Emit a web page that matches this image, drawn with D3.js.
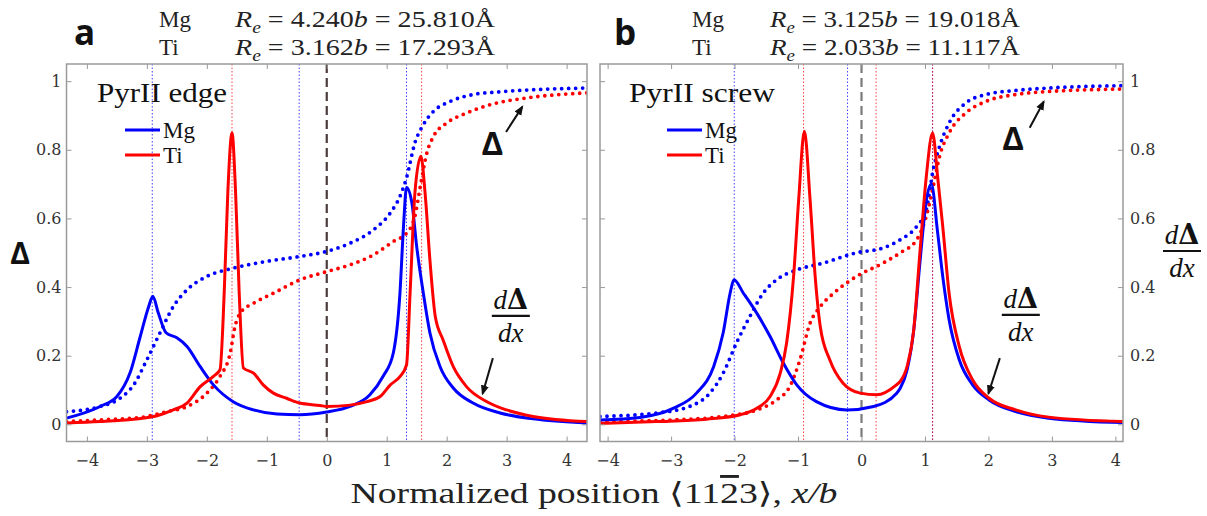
<!DOCTYPE html>
<html>
<head>
<meta charset="utf-8">
<script src="https://cdn.jsdelivr.net/npm/d3@7"></script>
<style>
  body { margin: 0; background: #fff; }
  svg { display: block; }
</style>
</head>
<body>
<svg id="chart" width="1207" height="516"></svg>
<script>
// ---- tick values ----
const xTicks = [-4, -3, -2, -1, 0, 1, 2, 3, 4];
const yTicks = [0, 0.2, 0.4, 0.6, 0.8, 1];

// ---- PyrII edge: Mg ----
const edgeMgDerivX = [-4.34,-3.78,-3.5,-3.28,-3.11,-2.97,-2.9,-2.81,-2.68,-2.5,-2.33,-2.11,-1.89,-1.56,-1.22,-0.83,-0.45,0,0.39,0.72,0.94,1.11,1.22,1.28,1.33,1.42,1.5,1.61,1.72,1.89,2.11,2.44,2.89,3.44,4.34];
const edgeMgDerivY = [0.018,0.052,0.081,0.15,0.256,0.343,0.373,0.325,0.267,0.252,0.227,0.168,0.115,0.066,0.042,0.03,0.028,0.036,0.052,0.086,0.14,0.208,0.38,0.577,0.69,0.645,0.518,0.383,0.267,0.168,0.106,0.062,0.033,0.016,0.004];
const edgeMgDeltaX = [-4.34,-3.78,-3.44,-3.22,-3.0,-2.78,-2.56,-2.33,-2.0,-1.56,-1.0,-0.45,0,0.39,0.78,1.06,1.22,1.33,1.47,1.61,1.78,2.06,2.44,2.89,3.44,4.34];
const edgeMgDeltaY = [0.037,0.052,0.077,0.115,0.188,0.267,0.343,0.392,0.431,0.455,0.475,0.489,0.504,0.528,0.567,0.616,0.664,0.718,0.82,0.873,0.912,0.941,0.961,0.969,0.975,0.98];

// ---- PyrII edge: Ti ----
const edgeTiDerivX = [-4.34,-3.78,-3.22,-2.83,-2.56,-2.33,-2.11,-1.89,-1.78,-1.71,-1.65,-1.58,-1.52,-1.46,-1.39,-1.22,-1.06,-0.89,-0.67,-0.45,-0.11,0,0.39,0.67,0.89,1.06,1.22,1.33,1.39,1.47,1.57,1.64,1.72,1.81,1.94,2.11,2.33,2.67,3.0,3.44,4.34];
const edgeTiDerivY = [0.004,0.008,0.015,0.025,0.042,0.062,0.11,0.14,0.159,0.383,0.675,0.849,0.675,0.383,0.164,0.149,0.115,0.091,0.076,0.062,0.055,0.052,0.056,0.066,0.081,0.115,0.139,0.173,0.383,0.674,0.781,0.674,0.48,0.314,0.246,0.168,0.11,0.066,0.042,0.023,0.008];
const edgeTiDeltaX = [-4.34,-3.78,-3.11,-2.67,-2.33,-2.0,-1.78,-1.61,-1.53,-1.44,-1.22,-0.89,-0.45,0,0.39,0.78,1.11,1.33,1.47,1.56,1.67,1.78,2.0,2.33,2.78,3.33,4.34];
const edgeTiDeltaY = [0.008,0.013,0.02,0.037,0.052,0.091,0.14,0.208,0.285,0.325,0.353,0.382,0.421,0.445,0.465,0.494,0.533,0.557,0.606,0.693,0.791,0.839,0.878,0.907,0.934,0.951,0.966];

// ---- PyrII screw: Mg ----
const screwMgDerivX = [-4.12,-3.49,-2.96,-2.6,-2.33,-2.18,-2.07,-2.01,-1.86,-1.65,-1.44,-1.23,-1.02,-0.71,-0.23,0.19,0.55,0.61,0.72,0.82,0.92,1.02,1.1,1.2,1.28,1.38,1.54,1.75,2.01,2.43,2.95,4.12];
const screwMgDerivY = [0.013,0.02,0.047,0.091,0.168,0.266,0.382,0.421,0.382,0.324,0.256,0.178,0.115,0.066,0.042,0.052,0.09,0.105,0.16,0.27,0.47,0.65,0.70,0.558,0.431,0.305,0.188,0.115,0.071,0.037,0.018,0.005];
const screwMgDeltaX = [-4.12,-3.23,-2.71,-2.39,-2.18,-1.97,-1.76,-1.55,-1.34,-1.02,-0.6,-0.08,0.34,0.61,0.87,1.02,1.13,1.23,1.38,1.64,1.96,2.43,2.95,4.12];
const screwMgDeltaY = [0.023,0.033,0.052,0.091,0.149,0.237,0.314,0.382,0.421,0.45,0.47,0.5,0.514,0.538,0.577,0.625,0.742,0.81,0.878,0.936,0.961,0.973,0.98,0.987];

// ---- PyrII screw: Ti ----
const screwTiDerivX = [-4.12,-3.23,-2.44,-1.91,-1.65,-1.44,-1.28,-1.18,-1.07,-0.99,-0.9,-0.81,-0.73,-0.65,-0.5,-0.29,-0.02,0.24,0.55,0.61,0.72,0.82,0.92,1.02,1.12,1.2,1.28,1.38,1.54,1.75,2.01,2.43,2.95,4.12];
const screwTiDerivY = [0.003,0.008,0.015,0.028,0.047,0.081,0.149,0.237,0.431,0.654,0.854,0.654,0.431,0.285,0.188,0.12,0.091,0.086,0.115,0.125,0.17,0.27,0.5,0.72,0.849,0.72,0.577,0.382,0.227,0.13,0.076,0.042,0.021,0.008];
const screwTiDeltaX = [-4.12,-2.96,-2.18,-1.65,-1.34,-1.13,-0.97,-0.81,-0.65,-0.44,-0.08,0.34,0.61,0.87,1.02,1.13,1.23,1.38,1.64,1.96,2.43,2.95,4.12];
const screwTiDeltaY = [0.008,0.013,0.023,0.042,0.071,0.11,0.188,0.295,0.343,0.382,0.431,0.47,0.5,0.538,0.606,0.693,0.781,0.849,0.907,0.941,0.961,0.97,0.977];

// ---- core positions marked by thin dotted verticals ----
const edgeMgMarks = [-2.91, -0.46, 1.33];
const edgeTiMarks = [-1.58, 1.582];
const screwMgMarks = [-2.005, -0.22, 1.12];
const screwTiMarks = [-0.913, 0.23, 1.12];

// ---- header lines: element, Re/b, Re in Å ----
const elements = ["Mg", "Ti"];
const edgeReB = ["4.240", "3.162"];
const edgeReA = ["25.810", "17.293"];
const screwReB = ["3.125", "2.033"];
const screwReA = ["19.018", "11.117"];

const BLUE = "#0000ff", RED = "#ff0000";
const SERIF = "'Liberation Serif', 'DejaVu Serif', serif";
const TICKFONT = "'DejaVu Serif', serif";
const SANS = "'Open Sans', 'DejaVu Sans', sans-serif";

const svg = d3.select("#chart");
const zip = (xs, ys) => xs.map((v, i) => [v, ys[i]]);

const yTop = 64, yBot = 441.5;
const yScale = d3.scaleLinear().domain([-0.05, 1.05]).range([yBot, yTop]);

// arrow head marker
svg.append("defs").append("marker")
  .attr("id", "head").attr("viewBox", "0 0 10 10")
  .attr("refX", 8).attr("refY", 5)
  .attr("markerWidth", 5).attr("markerHeight", 5)
  .attr("orient", "auto")
  .append("path").attr("d", "M0,1 L10,5 L0,9 Z").attr("fill", "#111");

function fraction(g, cx, cyBar, size) {
  const t1 = g.append("text").attr("x", cx).attr("y", cyBar - 7)
    .attr("text-anchor", "middle").attr("font-family", SERIF).attr("font-size", size).attr("fill", "#111");
  t1.append("tspan").attr("font-style", "italic").text("d");
  t1.append("tspan").attr("font-weight", "bold").attr("font-family", "'DejaVu Serif', serif").text("Δ");
  g.append("line").attr("x1", cx - 19).attr("x2", cx + 19)
    .attr("y1", cyBar).attr("y2", cyBar).attr("stroke", "#111").attr("stroke-width", 2.2);
  g.append("text").attr("x", cx).attr("y", cyBar + 26)
    .attr("text-anchor", "middle").attr("font-family", SERIF).attr("font-size", size)
    .attr("font-style", "italic").attr("fill", "#111").text("dx");
}

function drawPanel(cfg) {
  const x = d3.scaleLinear().domain(cfg.xDomain).range(cfg.xRange);
  const y = yScale;
  const g = svg.append("g");
  const id = "clip-" + cfg.key;

  g.append("clipPath").attr("id", id).append("rect")
    .attr("x", cfg.xRange[0]).attr("y", yTop)
    .attr("width", cfg.xRange[1] - cfg.xRange[0]).attr("height", yBot - yTop);

  const plot = g.append("g").attr("clip-path", `url(#${id})`);

  // thin dotted markers
  cfg.mgMarks.forEach(v => plot.append("line")
    .attr("x1", x(v)).attr("x2", x(v)).attr("y1", yTop).attr("y2", yBot)
    .attr("stroke", BLUE).attr("stroke-width", 1).attr("stroke-dasharray", "1.5,2").attr("opacity", 0.75));
  cfg.tiMarks.forEach(v => plot.append("line")
    .attr("x1", x(v)).attr("x2", x(v)).attr("y1", yTop).attr("y2", yBot)
    .attr("stroke", RED).attr("stroke-width", 1).attr("stroke-dasharray", "1.5,2").attr("opacity", 0.75));

  // dashed line at the origin
  plot.append("line")
    .attr("x1", x(0)).attr("x2", x(0)).attr("y1", yTop).attr("y2", yBot)
    .attr("stroke", cfg.zeroColor).attr("stroke-width", 2.2).attr("stroke-dasharray", "9,5");

  const line = d3.line().x(d => x(d[0])).y(d => y(d[1])).curve(d3.curveMonotoneX);

  // Δ profiles (dotted)
  [[cfg.mgDelta, BLUE], [cfg.tiDelta, RED]].forEach(([data, c]) => {
    plot.append("path").attr("d", line(data)).attr("fill", "none")
      .attr("stroke", c).attr("stroke-width", 3.8)
      .attr("stroke-linecap", "round").attr("stroke-dasharray", "0,7");
  });
  // dΔ/dx profiles (solid)
  [[cfg.mgDeriv, BLUE], [cfg.tiDeriv, RED]].forEach(([data, c]) => {
    plot.append("path").attr("d", line(data)).attr("fill", "none")
      .attr("stroke", c).attr("stroke-width", 3).attr("stroke-linejoin", "round");
  });

  // axes with inward ticks
  const styleAxis = sel => {
    sel.select(".domain").remove();
    sel.selectAll(".tick line").attr("stroke", "#999").attr("stroke-width", 1);
    sel.selectAll(".tick text").attr("fill", "#333").attr("font-family", TICKFONT).attr("font-size", 16);
  };
  g.append("g").attr("transform", `translate(0,${yBot})`)
    .call(d3.axisBottom(x).tickValues(xTicks).tickSize(-5).tickPadding(13).tickFormat(d3.format("d")))
    .call(styleAxis);
  g.append("g").attr("transform", `translate(0,${yTop})`)
    .call(d3.axisTop(x).tickValues(xTicks).tickSize(-5).tickFormat(""))
    .call(styleAxis);
  const fmtY = d => (d === 0 || d === 1) ? String(d) : d.toFixed(1);
  g.append("g").attr("transform", `translate(${cfg.xRange[0]},0)`)
    .call(d3.axisLeft(y).tickValues(yTicks).tickSize(-5).tickPadding(5)
      .tickFormat(cfg.labelsLeft ? fmtY : ""))
    .call(styleAxis);
  g.append("g").attr("transform", `translate(${cfg.xRange[1]},0)`)
    .call(d3.axisRight(y).tickValues(yTicks).tickSize(-5).tickPadding(7)
      .tickFormat(cfg.labelsLeft ? "" : fmtY))
    .call(styleAxis);

  // frame
  g.append("rect").attr("x", cfg.xRange[0]).attr("y", yTop)
    .attr("width", cfg.xRange[1] - cfg.xRange[0]).attr("height", yBot - yTop)
    .attr("fill", "none").attr("stroke", "#9a9a9a").attr("stroke-width", 1.5);

  // panel title and legend
  g.append("text").attr("x", cfg.nameX).attr("y", 102)
    .attr("font-family", SERIF).attr("font-size", 27).attr("fill", "#111")
    .attr("textLength", cfg.nameW).attr("lengthAdjust", "spacingAndGlyphs")
    .text(cfg.name);
  [[BLUE, "Mg", 130], [RED, "Ti", 155]].forEach(([c, t, ly]) => {
    g.append("line").attr("x1", cfg.legX).attr("x2", cfg.legX + 35)
      .attr("y1", ly).attr("y2", ly).attr("stroke", c).attr("stroke-width", 3);
    g.append("text").attr("x", cfg.legX + 38).attr("y", ly + 8)
      .attr("font-family", SERIF).attr("font-size", 23).attr("fill", "#111").text(t);
  });

  // annotations
  const A = cfg.ann;
  g.append("text").attr("x", x(A.deltaLabel[0])).attr("y", y(A.deltaLabel[1]))
    .attr("text-anchor", "middle").attr("font-family", SANS).attr("font-weight", "bold")
    .attr("font-size", 33).attr("fill", "#111").text("Δ");
  g.append("line")
    .attr("x1", x(A.deltaArrow[0][0])).attr("y1", y(A.deltaArrow[0][1]))
    .attr("x2", x(A.deltaArrow[1][0])).attr("y2", y(A.deltaArrow[1][1]))
    .attr("stroke", "#111").attr("stroke-width", 2).attr("marker-end", "url(#head)");
  fraction(g, x(A.fracLabel[0]), y(A.fracLabel[1]), 27);
  g.append("line")
    .attr("x1", x(A.fracArrow[0][0])).attr("y1", y(A.fracArrow[0][1]))
    .attr("x2", x(A.fracArrow[1][0])).attr("y2", y(A.fracArrow[1][1]))
    .attr("stroke", "#111").attr("stroke-width", 2).attr("marker-end", "url(#head)");

  // header: panel letter and Re values
  g.append("text").attr("x", cfg.letterX).attr("y", 45)
    .attr("font-family", SANS).attr("font-weight", "bold").attr("font-size", 35)
    .attr("fill", "#111").text(cfg.letter);
  elements.forEach((el, i) => {
    const by = i === 0 ? 27 : 55;
    g.append("text").attr("x", cfg.elX).attr("y", by)
      .attr("font-family", SERIF).attr("font-size", 23).attr("fill", "#222").text(el);
    const t = g.append("text").attr("x", cfg.reX).attr("y", by)
      .attr("font-family", SERIF).attr("font-size", 23).attr("fill", "#222")
      .attr("textLength", cfg.reW).attr("lengthAdjust", "spacingAndGlyphs");
    t.append("tspan").attr("font-style", "italic").text("R");
    t.append("tspan").attr("font-style", "italic").attr("font-size", 16).attr("dy", 6).text("e");
    t.append("tspan").attr("dy", -6).text(" = " + cfg.reB[i]);
    t.append("tspan").attr("font-style", "italic").text("b");
    t.append("tspan").text(" = " + cfg.reA[i] + "Å");
  });
}

drawPanel({
  key: "edge", letter: "a", name: "PyrII edge", nameX: 97, nameW: 130,
  xDomain: [-4.34, 4.34], xRange: [66.5, 587],
  labelsLeft: true, zeroColor: "#4a3a3a", legX: 125,
  mgDeriv: zip(edgeMgDerivX, edgeMgDerivY), tiDeriv: zip(edgeTiDerivX, edgeTiDerivY),
  mgDelta: zip(edgeMgDeltaX, edgeMgDeltaY), tiDelta: zip(edgeTiDeltaX, edgeTiDeltaY),
  mgMarks: edgeMgMarks, tiMarks: edgeTiMarks,
  ann: {
    deltaLabel: [2.76, 0.785], deltaArrow: [[2.99, 0.852], [3.26, 0.925]],
    fracLabel: [3.07, 0.316], fracArrow: [[2.77, 0.193], [2.6, 0.09]]
  },
  letterX: 74, elX: 159, reX: 235, reW: 260, reB: edgeReB, reA: edgeReA
});

drawPanel({
  key: "screw", letter: "b", name: "PyrII screw", nameX: 629, nameW: 146,
  xDomain: [-4.12, 4.12], xRange: [600, 1123],
  labelsLeft: false, zeroColor: "#7a7a7a", legX: 667,
  mgDeriv: zip(screwMgDerivX, screwMgDerivY), tiDeriv: zip(screwTiDerivX, screwTiDerivY),
  mgDelta: zip(screwMgDeltaX, screwMgDeltaY), tiDelta: zip(screwTiDeltaX, screwTiDeltaY),
  mgMarks: screwMgMarks, tiMarks: screwTiMarks,
  ann: {
    deltaLabel: [2.39, 0.80], deltaArrow: [[2.65, 0.864], [2.87, 0.94]],
    fracLabel: [2.51, 0.319], fracArrow: [[2.18, 0.193], [2.0, 0.09]]
  },
  letterX: 614, elX: 692, reX: 770, reW: 250, reB: screwReB, reA: screwReA
});

// left axis title
svg.append("text").attr("x", 20).attr("y", 264).attr("text-anchor", "middle")
  .attr("font-family", SANS).attr("font-weight", "bold").attr("font-size", 30)
  .attr("fill", "#111").text("Δ");

// right axis title
fraction(svg, 1182, 251, 27);

// shared x-axis title
const xt = svg.append("text").attr("x", 594).attr("y", 503).attr("text-anchor", "middle")
  .attr("font-family", SERIF).attr("font-size", 29).attr("fill", "#222")
  .attr("textLength", 487).attr("lengthAdjust", "spacingAndGlyphs");
xt.append("tspan").text("Normalized position ⟨11");
xt.append("tspan").style("text-decoration", "overline").text("2");
xt.append("tspan").text("3⟩, ");
xt.append("tspan").attr("font-style", "italic").text("x/b");
</script>
</body>
</html>
